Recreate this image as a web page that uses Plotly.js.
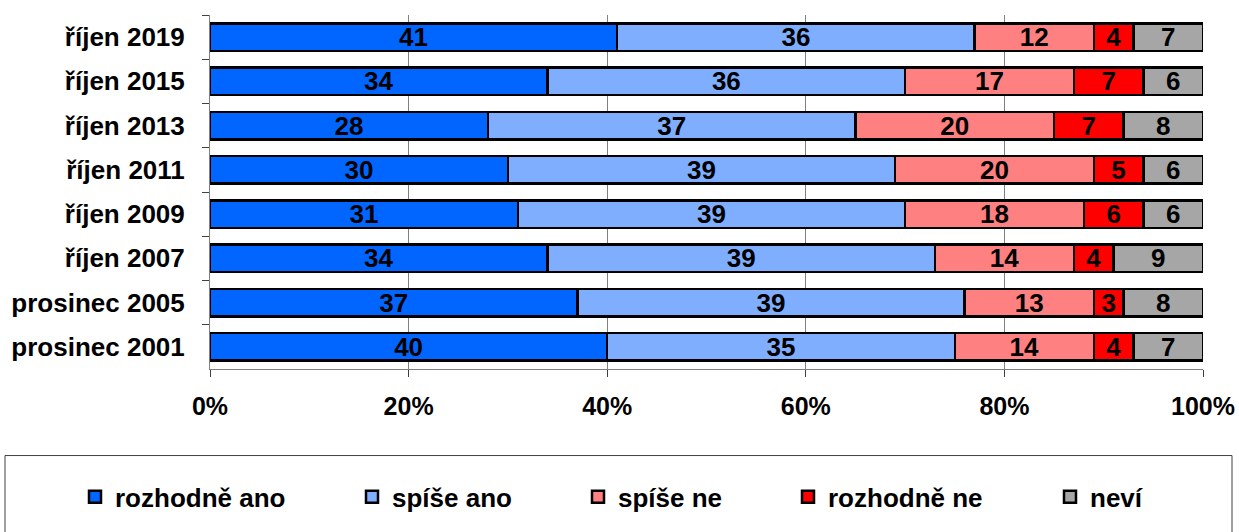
<!DOCTYPE html>
<html>
<head>
<meta charset="utf-8">
<script src="https://cdn.plot.ly/plotly-3.0.1.min.js"></script>
<style>html,body{margin:0;padding:0;background:#fff;}#chart{width:1239px;height:532px;}</style>
</head>
<body>
<div id="chart"></div>
<script>
const categories = ["říjen 2019","říjen 2015","říjen 2013","říjen 2011","říjen 2009","říjen 2007","prosinec 2005","prosinec 2001"];
const seriesNames = ["rozhodně ano","spíše ano","spíše ne","rozhodně ne","neví"];
const rozhodneAno = [41,34,28,30,31,34,37,40];
const spiseAno    = [36,36,37,39,39,39,39,35];
const spiseNe     = [12,17,20,20,18,14,13,14];
const rozhodneNe  = [4,7,7,5,6,4,3,4];
const nevi        = [7,6,8,6,6,9,8,7];
const xTickVals = [0,20,40,60,80,100];
const xTickText = ["0%","20%","40%","60%","80%","100%"];

const seriesValues = [rozhodneAno, spiseAno, spiseNe, rozhodneNe, nevi];
const colors = ["#0066FF","#7FAEFF","#FF8080","#FF0000","#A6A6A6"];
const legendIds = ["legend","legend2","legend3","legend4","legend5"];
const textStarts = [115,392,618,828,1090];

const L = 210, R = 1203, T = 15, B = 375;
const W = R - L, H = B - T;
const font = "Liberation Sans, Arial, sans-serif";

const traces = seriesValues.map((vals, i) => ({
  type: "bar",
  orientation: "h",
  name: seriesNames[i],
  y: categories,
  x: vals,
  text: vals.map(String),
  textposition: "inside",
  insidetextanchor: "middle",
  constraintext: "none",
  textangle: 0,
  textfont: {family: font, size: 26, color: "#000", weight: "bold"},
  marker: {color: colors[i], line: {color: "#000", width: 2.5}},
  legend: legendIds[i],
  hoverinfo: "skip"
}));

const layout = {
  width: 1239, height: 532,
  margin: {l: L, r: 1239 - R, t: T, b: 532 - B},
  paper_bgcolor: "#fff", plot_bgcolor: "#fff",
  barmode: "stack",
  bargap: 0.38,
  font: {family: font, color: "#000"},
  xaxis: {
    range: [0, 100],
    tickvals: xTickVals, ticktext: xTickText,
    tickfont: {family: font, size: 25, color: "#000", weight: "bold"},
    showgrid: true, gridcolor: "#808080", gridwidth: 1,
    zeroline: false,
    showline: true, linecolor: "#808080", linewidth: 1,
    ticks: "outside", ticklen: 7, tickcolor: "#404040",
    ticklabelstandoff: 8,
    fixedrange: true
  },
  yaxis: {
    type: "category",
    autorange: "reversed",
    tickfont: {family: font, size: 26, color: "#000", weight: "bold"},
    showline: true, linecolor: "#808080", linewidth: 1,
    ticks: "outside", ticklen: 7, tickcolor: "#404040",
    tickson: "boundaries",
    ticklabelstandoff: 19,
    showgrid: false,
    fixedrange: true
  },
  shapes: [{
    type: "rect", xref: "paper", yref: "paper",
    x0: (5 - L) / W, x1: (1232 - L) / W,
    y0: (B - 463) / H, y1: (B - 545) / H,
    line: {color: "#404040", width: 1}, fillcolor: "rgba(0,0,0,0)"
  }],
  showlegend: true
};

legendIds.forEach((id, i) => {
  layout[id] = {
    orientation: "h",
    x: (textStarts[i] - 40 - L) / W,
    xanchor: "left",
    y: (B - 505) / H,
    yanchor: "middle",
    bgcolor: "rgba(0,0,0,0)",
    borderwidth: 0,
    font: {family: font, size: 26, color: "#000", weight: "bold"},
    itemclick: false, itemdoubleclick: false
  };
});

Plotly.newPlot("chart", traces, layout, {displayModeBar: false, staticPlot: true});
</script>
</body>
</html>
